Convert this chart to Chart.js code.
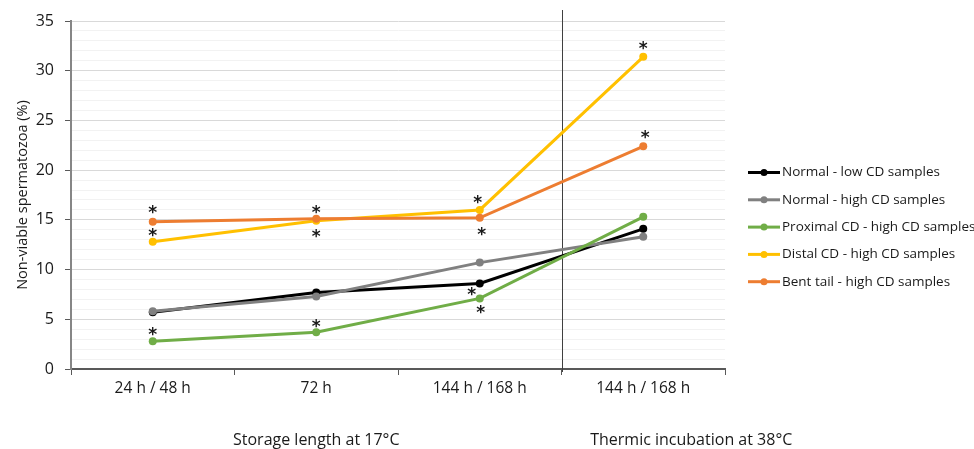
<!DOCTYPE html>
<html><head><meta charset="UTF-8">
<title>Non-viable spermatozoa</title>
<script src="https://cdn.jsdelivr.net/npm/chart.js"></script>
<style>html,body{margin:0;padding:0;background:#fff;} #wrap{width:974px;height:449px;position:relative;}</style>
</head><body>
<div id="wrap"><canvas id="c"></canvas></div>
<script>
// --- data ---
const categories = ['24 h / 48 h', '72 h', '144 h / 168 h', '144 h / 168 h'];
const groupLabels = ['Storage length at 17°C', 'Thermic incubation at 38°C'];
const seriesNames = ['Normal - low CD samples', 'Normal - high CD samples', 'Proximal CD - high CD samples', 'Distal CD - high CD samples', 'Bent tail - high CD samples'];
const normalLow = [5.7, 7.7, 8.6, 14.1];
const normalHigh = [5.8, 7.3, 10.7, 13.3];
const proximalCD = [2.8, 3.7, 7.1, 15.3];
const distalCD = [12.8, 14.9, 16.0, 31.4];
const bentTail = [14.8, 15.1, 15.2, 22.4];
const yMin = 0, yMax = 35, yMajor = 5;
// asterisks: [series index, point index]
const starPoints = [[4,0],[3,0],[2,0],[4,1],[3,1],[2,1],[3,2],[4,2],[2,2],[2,2],[3,3],[4,3]];

// --- styles ---
const seriesColors = ['#000000', '#808080', '#70AD47', '#FFC000', '#ED7D31'];
const starOffsets = [[0,-14],[0,-11],[0,-11],[0,-11],[0,11],[0,-10],[-2,-12],[2,12],[-8,-8],[1,10],[0,-13],[2,-13]];
const FONT = '"Open Sans", "Liberation Sans", sans-serif';
const TEXT = '#1a1a1a';

const allSeries = [normalLow, normalHigh, proximalCD, distalCD, bentTail];

const extras = {
    id: 'extras',
    beforeDatasetsDraw(chart) {
        const { ctx, chartArea, scales: { x } } = chart;
        // separator between storage and thermic incubation
        const sx = (x.getPixelForValue(2) + x.getPixelForValue(3)) / 2;
        ctx.save();
        ctx.strokeStyle = '#404040';
        ctx.lineWidth = 1;
        ctx.beginPath();
        ctx.moveTo(Math.round(sx) + 0.5, chartArea.top - 11);
        ctx.lineTo(Math.round(sx) + 0.5, chartArea.bottom + 3);
        ctx.stroke();
        ctx.restore();
    },
    afterDatasetsDraw(chart) {
        const { ctx } = chart;
        ctx.save();
        ctx.fillStyle = TEXT;
        ctx.font = 'bold 17px "DejaVu Sans", sans-serif';
        ctx.textAlign = 'center';
        ctx.textBaseline = 'alphabetic';
        starPoints.forEach(([s, p], i) => {
            const pt = chart.getDatasetMeta(s).data[p];
            const [dx, dy] = starOffsets[i];
            ctx.fillText('*', pt.x + dx, pt.y + dy + 10);
        });
        ctx.restore();
    },
    afterDraw(chart) {
        const { ctx, chartArea, scales: { x } } = chart;
        ctx.save();
        ctx.fillStyle = TEXT;
        ctx.font = '16px ' + FONT;
        ctx.textBaseline = 'middle';
        // group labels under the x axis
        ctx.textAlign = 'center';
        const storageMid = (x.getPixelForValue(0) + x.getPixelForValue(2)) / 2;
        ctx.fillText(groupLabels[0], storageMid, 440);
        ctx.fillText(groupLabels[1], x.getPixelForValue(3) + 48, 440);

        // legend
        const lx = chartArea.right + 23;
        ctx.textAlign = 'left';
        ctx.font = '13.5px ' + FONT;
        seriesNames.forEach((name, i) => {
            const y = 172.5 + i * 27.3;
            ctx.strokeStyle = seriesColors[i];
            ctx.lineWidth = 3;
            ctx.beginPath();
            ctx.moveTo(lx, y);
            ctx.lineTo(lx + 32, y);
            ctx.stroke();
            ctx.fillStyle = seriesColors[i];
            ctx.beginPath();
            ctx.arc(lx + 16, y, 3.5, 0, Math.PI * 2);
            ctx.fill();
            ctx.fillStyle = TEXT;
            ctx.fillText(name, lx + 34, y);
        });
        ctx.restore();
    }
};

new Chart(document.getElementById('c'), {
    type: 'line',
    data: {
        labels: categories,
        datasets: allSeries.map((vals, i) => ({
            label: seriesNames[i],
            data: vals,
            borderColor: seriesColors[i],
            backgroundColor: seriesColors[i],
            borderWidth: 3,
            pointRadius: 4,
            pointHoverRadius: 4,
            pointBorderWidth: 0,
            tension: 0,
            order: allSeries.length - 1 - i
        }))
    },
    options: {
        responsive: true,
        maintainAspectRatio: false,
        animation: false,
        layout: { padding: { left: 0, right: 249, top: 21, bottom: 0 } },
        plugins: { legend: { display: false }, tooltip: { enabled: false } },
        scales: {
            x: {
                offset: true,
                grid: { offset: true, drawOnChartArea: false, tickLength: 6, color: '#595959', lineWidth: 1 },
                border: { color: '#595959', width: 2 },
                ticks: { color: TEXT, font: { family: FONT, size: 15.5 }, padding: 4, maxRotation: 0, autoSkip: false },
                afterFit(s) { s.height = 80; }
            },
            y: {
                min: yMin, max: yMax,
                ticks: {
                    stepSize: 1, autoSkip: false, color: TEXT, padding: 11,
                    font: { family: FONT, size: 16 },
                    callback: v => (v % yMajor === 0 ? v : '')
                },
                grid: {
                    tickLength: 6,
                    color: c => (c.tick && c.tick.value % yMajor === 0 ? '#d9d9d9' : '#f2f2f2'),
                    tickColor: c => (c.tick && c.tick.value % yMajor === 0 ? '#595959' : 'rgba(0,0,0,0)')
                },
                border: { color: '#868686', width: 2 },
                title: { display: true, text: 'Non-viable spermatozoa (%)', color: TEXT, font: { family: FONT, size: 14.5 }, padding: { top: 14, bottom: 0 } },
                afterFit(s) { s.width = 71; }
            }
        }
    },
    plugins: [extras]
});
</script>
</body></html>
